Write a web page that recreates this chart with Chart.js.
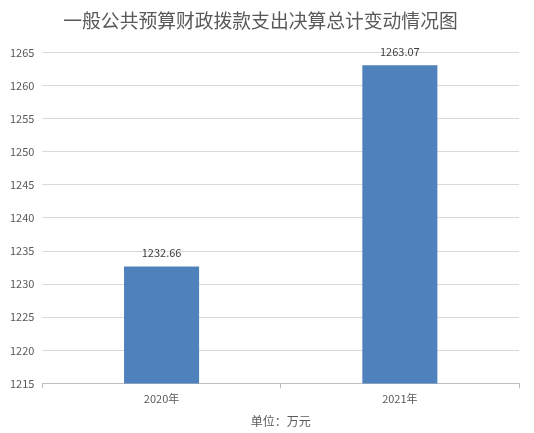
<!DOCTYPE html>
<html>
<head>
<meta charset="utf-8">
<script src="https://cdn.jsdelivr.net/npm/chart.js@4"></script>
<style>
  html, body { margin: 0; padding: 0; background: #fff; }
  #wrap { width: 534px; height: 433px; }
</style>
</head>
<body>
<div id="wrap"><canvas id="chart" width="534" height="433"></canvas></div>
<script>
const categories = ["2020年", "2021年"];
const values = [1232.66, 1263.07];
const yTicks = [1215, 1220, 1225, 1230, 1235, 1240, 1245, 1250, 1255, 1260, 1265];

const FONT = '"Microsoft YaHei", "Noto Sans CJK SC", sans-serif';
const GRAY = "#595959";

// labels above the bars
const barLabels = {
  id: "barLabels",
  afterDatasetsDraw(chart) {
    const ctx = chart.ctx;
    const meta = chart.getDatasetMeta(0);
    ctx.save();
    ctx.font = "11px " + FONT;
    ctx.fillStyle = "#404040";
    ctx.textAlign = "center";
    ctx.textBaseline = "bottom";
    meta.data.forEach((bar, i) => {
      ctx.fillText(values[i].toFixed(2), bar.x, bar.y - 8);
    });
    ctx.restore();
  }
};

new Chart(document.getElementById("chart"), {
  type: "bar",
  data: {
    labels: categories,
    datasets: [{
      data: values,
      backgroundColor: "#4f81bd",
      barPercentage: 0.315,
      categoryPercentage: 1
    }]
  },
  options: {
    responsive: false,
    animation: false,
    layout: { padding: { left: 2, right: 15, top: 0, bottom: 4 } },
    plugins: {
      legend: { display: false },
      tooltip: { enabled: false },
      title: {
        display: true,
        text: "一般公共预算财政拨款支出决算总计变动情况图",
        color: GRAY,
        font: { family: FONT, size: 18.8, weight: "normal" },
        padding: { top: 10, bottom: 20 }
      }
    },
    scales: {
      x: {
        grid: { display: true, drawOnChartArea: false, offset: true, color: "#bfbfbf", tickLength: 5 },
        border: { color: "#bfbfbf" },
        ticks: { color: GRAY, font: { family: FONT, size: 11 }, padding: 4 },
        title: {
          display: true,
          text: "单位：万元",
          color: GRAY,
          font: { family: FONT, size: 12 },
          padding: { top: 5, bottom: 0 }
        }
      },
      y: {
        min: 1215,
        max: 1265,
        afterBuildTicks(axis) { axis.ticks = yTicks.map(v => ({ value: v })); },
        grid: { color: "#d9d9d9", drawTicks: false },
        border: { display: false },
        ticks: {
          color: GRAY,
          font: { family: FONT, size: 11 },
          padding: 8,
          callback: v => String(v)
        }
      }
    }
  },
  plugins: [barLabels]
});
</script>
</body>
</html>
